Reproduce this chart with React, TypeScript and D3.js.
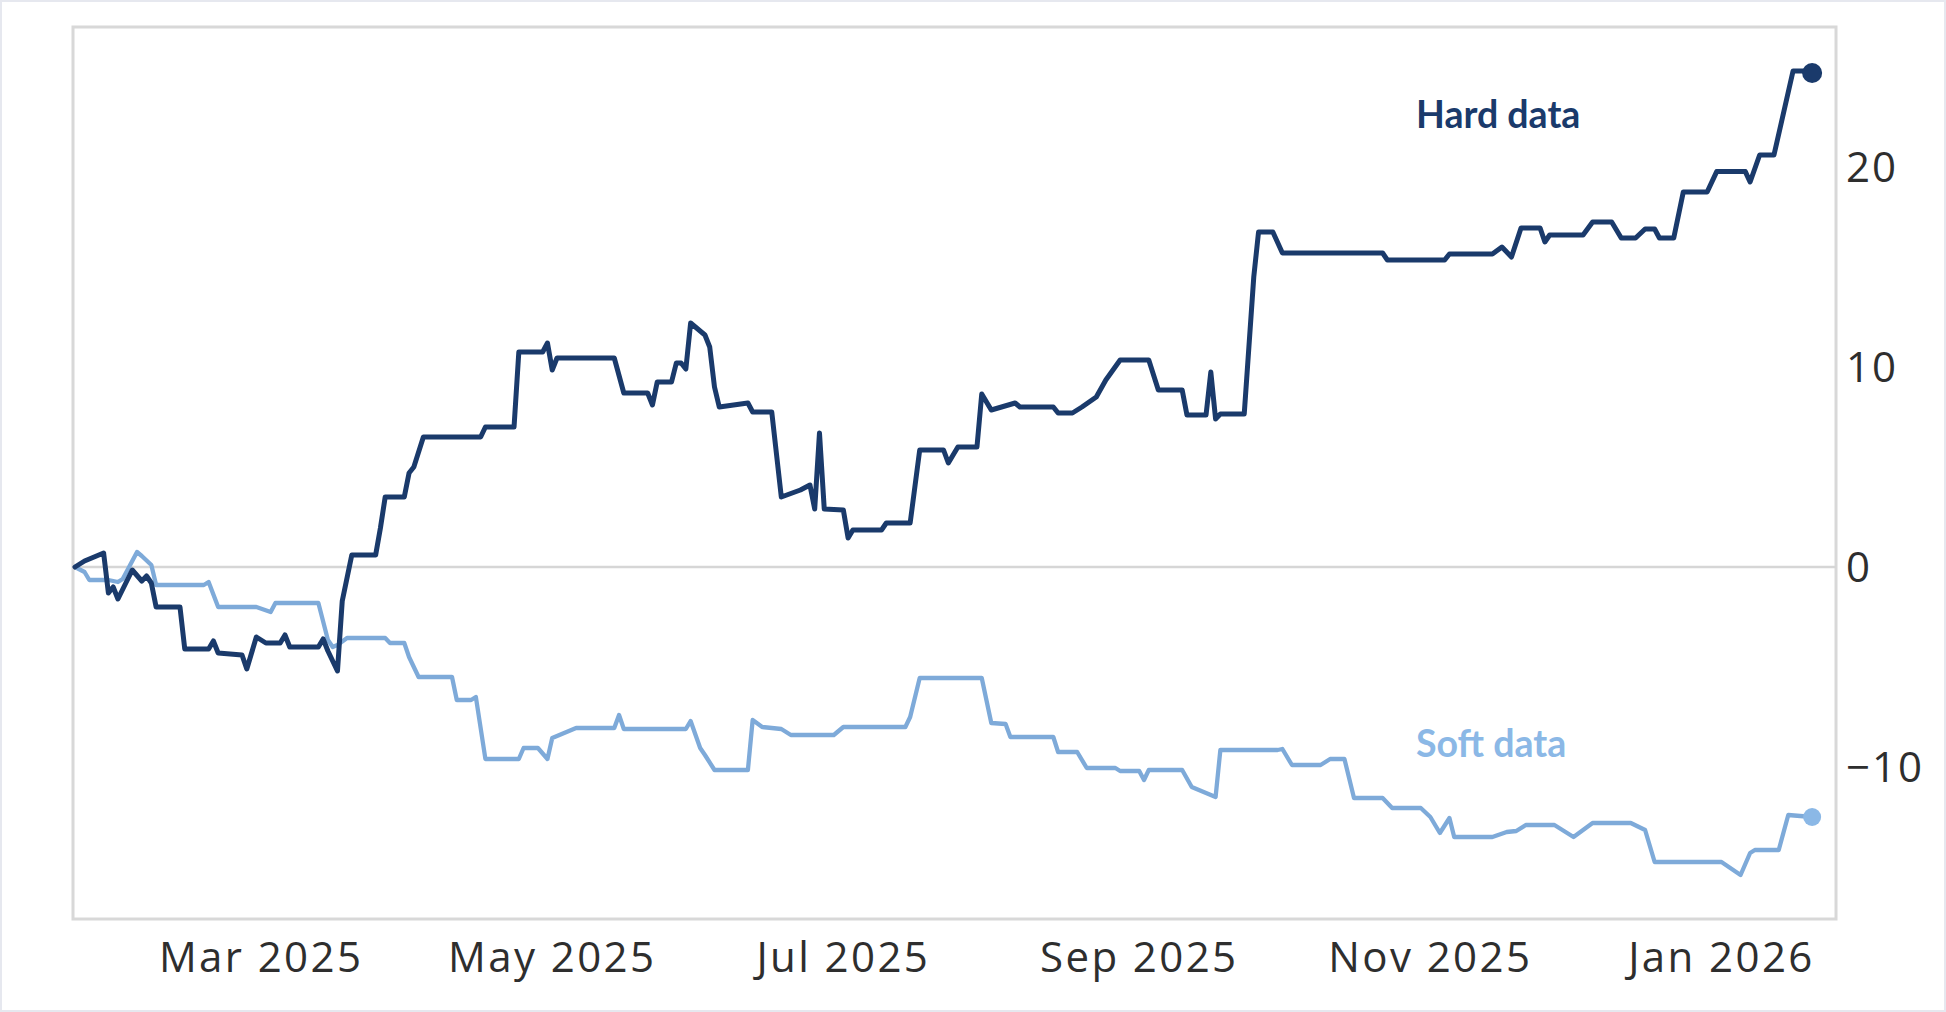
import React from "react";
import * as d3 from "d3";

// ---- data ----
const hardDates = [
  "2025-01-21","2025-01-23","2025-01-27","2025-01-28","2025-01-29","2025-01-30","2025-02-02","2025-02-04","2025-02-05","2025-02-06",
  "2025-02-07","2025-02-12","2025-02-13","2025-02-18","2025-02-19","2025-02-20","2025-02-25","2025-02-26","2025-02-28","2025-03-02",
  "2025-03-05","2025-03-06","2025-03-07","2025-03-13","2025-03-14","2025-03-15","2025-03-17","2025-03-18","2025-03-20","2025-03-25",
  "2025-03-26","2025-03-27","2025-03-31","2025-04-01","2025-04-02","2025-04-04","2025-04-16","2025-04-17","2025-04-23","2025-04-24",
  "2025-04-29","2025-04-30","2025-05-01","2025-05-02","2025-05-14","2025-05-16","2025-05-21","2025-05-22","2025-05-23","2025-05-26",
  "2025-05-27","2025-05-28","2025-05-29","2025-05-30","2025-06-02","2025-06-03","2025-06-04","2025-06-05","2025-06-11","2025-06-12",
  "2025-06-16","2025-06-18","2025-06-22","2025-06-24","2025-06-25","2025-06-26","2025-06-27","2025-07-01","2025-07-02","2025-07-03",
  "2025-07-09","2025-07-10","2025-07-15","2025-07-17","2025-07-22","2025-07-23","2025-07-25","2025-07-29","2025-07-30","2025-08-01",
  "2025-08-06","2025-08-07","2025-08-14","2025-08-15","2025-08-18","2025-08-20","2025-08-23","2025-08-25","2025-08-28","2025-09-03",
  "2025-09-05","2025-09-10","2025-09-11","2025-09-15","2025-09-16","2025-09-17","2025-09-18","2025-09-23","2025-09-25","2025-09-26",
  "2025-09-29","2025-10-01","2025-10-22","2025-10-23","2025-11-04","2025-11-05","2025-11-14","2025-11-16","2025-11-18","2025-11-20",
  "2025-11-24","2025-11-25","2025-11-26","2025-12-03","2025-12-05","2025-12-09","2025-12-11","2025-12-14","2025-12-16","2025-12-18",
  "2025-12-19","2025-12-22","2025-12-24","2025-12-29","2025-12-31","2026-01-06","2026-01-07","2026-01-09","2026-01-12","2026-01-16",
  "2026-01-18","2026-01-20",
];
const hardValues = [
  0.0, 0.3, 0.7, -1.3, -1.0, -1.6, -0.15, -0.7, -0.45, -0.8,
  -2.0, -2.0, -4.1, -4.1, -3.7, -4.3, -4.4, -5.1, -3.5, -3.8,
  -3.8, -3.4, -4.0, -4.0, -3.6, -4.2, -5.2, -1.7, 0.6, 0.6,
  1.95, 3.5, 3.5, 4.7, 5.0, 6.5, 6.5, 7.0, 7.0, 10.75,
  10.75, 11.2, 9.85, 10.45, 10.45, 8.7, 8.7, 8.1, 9.25, 9.25,
  10.2, 10.2, 9.9, 12.2, 11.6, 11.0, 9.0, 8.0, 8.2, 7.75,
  7.75, 3.5, 3.85, 4.1, 2.9, 6.7, 2.9, 2.85, 1.45, 1.85,
  1.85, 2.2, 2.2, 5.85, 5.85, 5.2, 6.0, 6.0, 8.65, 7.85,
  8.2, 8.0, 8.0, 7.7, 7.7, 8.0, 8.5, 9.35, 10.35, 10.35,
  8.85, 8.85, 7.6, 7.6, 9.75, 7.4, 7.65, 7.65, 14.5, 16.75,
  16.75, 15.7, 15.7, 15.35, 15.35, 15.65, 15.65, 16.0, 15.5, 16.95,
  16.95, 16.25, 16.6, 16.6, 17.25, 17.25, 16.45, 16.45, 16.9, 16.9,
  16.45, 16.45, 18.75, 18.75, 19.77, 19.77, 19.25, 20.6, 20.6, 24.8,
  24.8, 24.7,
];

const softDates = [
  "2025-01-21","2025-01-23","2025-01-24","2025-01-28","2025-01-30","2025-01-31","2025-02-03","2025-02-04","2025-02-06","2025-02-07",
  "2025-02-17","2025-02-18","2025-02-20","2025-02-28","2025-03-03","2025-03-04","2025-03-13","2025-03-15","2025-03-16","2025-03-17",
  "2025-03-19","2025-03-27","2025-03-28","2025-03-31","2025-04-01","2025-04-03","2025-04-10","2025-04-11","2025-04-14","2025-04-15",
  "2025-04-17","2025-04-24","2025-04-25","2025-04-28","2025-04-30","2025-05-01","2025-05-03","2025-05-06","2025-05-14","2025-05-15",
  "2025-05-16","2025-05-29","2025-05-30","2025-06-01","2025-06-02","2025-06-04","2025-06-11","2025-06-12","2025-06-14","2025-06-18",
  "2025-06-20","2025-06-29","2025-07-01","2025-07-14","2025-07-15","2025-07-17","2025-07-30","2025-08-01","2025-08-04","2025-08-05",
  "2025-08-14","2025-08-15","2025-08-19","2025-08-21","2025-08-27","2025-08-28","2025-09-01","2025-09-02","2025-09-03","2025-09-10",
  "2025-09-12","2025-09-14","2025-09-17","2025-09-18","2025-09-30","2025-10-01","2025-10-03","2025-10-09","2025-10-11","2025-10-14",
  "2025-10-16","2025-10-22","2025-10-24","2025-10-30","2025-11-01","2025-11-03","2025-11-05","2025-11-06","2025-11-14","2025-11-17",
  "2025-11-19","2025-11-21","2025-11-27","2025-12-01","2025-12-05","2025-12-13","2025-12-16","2025-12-18","2026-01-01","2026-01-05",
  "2026-01-07","2026-01-08","2026-01-13","2026-01-15","2026-01-20",
];
const softValues = [
  0.0, -0.25, -0.65, -0.65, -0.75, -0.6, 0.75, 0.55, 0.1, -0.9,
  -0.9, -0.75, -2.0, -2.0, -2.25, -1.8, -1.8, -3.65, -4.0, -3.9,
  -3.55, -3.55, -3.8, -3.8, -4.5, -5.5, -5.5, -6.65, -6.65, -6.5,
  -9.6, -9.6, -9.05, -9.05, -9.6, -8.55, -8.35, -8.05, -8.05, -7.4,
  -8.1, -8.1, -7.7, -9.05, -9.4, -10.15, -10.15, -7.65, -8.0, -8.1,
  -8.4, -8.4, -8.0, -8.0, -7.5, -5.55, -5.55, -7.8, -7.85, -8.5,
  -8.5, -9.25, -9.25, -10.05, -10.05, -10.2, -10.2, -10.65, -10.15, -10.15,
  -11.0, -11.2, -11.5, -9.15, -9.15, -9.1, -9.9, -9.9, -9.6, -9.6,
  -11.55, -11.55, -12.05, -12.05, -12.5, -13.3, -12.55, -13.5, -13.5, -13.25,
  -13.2, -12.9, -12.9, -13.5, -12.8, -12.8, -13.15, -14.75, -14.75, -15.4,
  -14.3, -14.15, -14.15, -12.4, -12.5,
];

const yTicks = [-10, 0, 10, 20];
const xTickDates = ["2025-03-01", "2025-05-01", "2025-07-01", "2025-09-01", "2025-11-01", "2026-01-01"];
const seriesLabels = ["Hard data", "Soft data"];
const labelAnchors = [
  { date: "2025-10-29", value: 21.95 },
  { date: "2025-10-29", value: -9.5 },
];

// ---- layout / style ----
const W = 1946;
const H = 1012;
const M = { left: 73, right: W - 1836, top: 27, bottom: H - 919 };
const HARD = "#1a3a6b";
const SOFT = "#7eaad9";
const SOFT_LABEL = "#8bb8e6";

type P = { date: Date; value: number };

export default function App() {
  const parse = d3.timeParse("%Y-%m-%d");
  const hard: P[] = hardDates.map((d, i) => ({ date: parse(d)!, value: hardValues[i] }));
  const soft: P[] = softDates.map((d, i) => ({ date: parse(d)!, value: softValues[i] }));

  const x = d3
    .scaleTime()
    .domain([new Date(2025, 0, 20, 14), new Date(2026, 0, 25, 0)])
    .range([M.left, W - M.right]);
  const y = d3.scaleLinear().domain([-17.6, 27]).range([H - M.bottom, M.top]);

  const line = d3
    .line<P>()
    .x((d) => x(d.date))
    .y((d) => y(d.value));

  const fmt = d3.timeFormat("%b %Y");
  const yFmt = (v: number) => (v < 0 ? "\u2212" + Math.abs(v) : String(v));
  const lastHard = hard[hard.length - 1];
  const lastSoft = soft[soft.length - 1];

  return (
    <>
      <style>{"body{margin:0;background:#fff}"}</style>
      <svg width={W} height={H} style={{ display: "block" }}>
        <rect x={0} y={0} width={W} height={H} fill="#fff" />
        <rect x={1} y={1} width={W - 2} height={H - 2} fill="none" stroke="#e6e8ef" strokeWidth={2} />
        {/* plot frame */}
        <rect
          x={M.left}
          y={M.top}
          width={W - M.left - M.right}
          height={H - M.top - M.bottom}
          fill="#fff"
          stroke="#d8d8d8"
          strokeWidth={3}
        />
        {/* zero line */}
        <line x1={M.left} x2={W - M.right} y1={y(0)} y2={y(0)} stroke="#d6d6d6" strokeWidth={2.5} />

        {/* y tick labels (right) */}
        {yTicks.map((t) => (
          <text
            key={t}
            x={W - M.right + 10}
            y={y(t)}
            dy="0.36em"
            fontFamily="'Open Sans', sans-serif"
            fontSize={42}
            fill="#2e2e2e"
            letterSpacing={2}
          >
            {yFmt(t)}
          </text>
        ))}

        {/* x tick labels */}
        {xTickDates.map((d) => (
          <text
            key={d}
            x={x(parse(d)!)}
            y={972}
            textAnchor="middle"
            fontFamily="'Open Sans', sans-serif"
            fontSize={42}
            fill="#2e2e2e"
            letterSpacing={2.4}
          >
            {fmt(parse(d)!)}
          </text>
        ))}

        {/* series */}
        <path d={line(soft) ?? ""} fill="none" stroke={SOFT} strokeWidth={4.3} strokeLinejoin="round" strokeLinecap="round" />
        <path d={line(hard) ?? ""} fill="none" stroke={HARD} strokeWidth={5} strokeLinejoin="round" strokeLinecap="round" />
        <circle cx={x(lastSoft.date)} cy={y(lastSoft.value)} r={9} fill={SOFT_LABEL} />
        <circle cx={x(lastHard.date)} cy={y(lastHard.value)} r={10} fill={HARD} />

        {/* series labels */}
        {seriesLabels.map((s, i) => (
          <text
            key={s}
            x={x(parse(labelAnchors[i].date)!)}
            y={y(labelAnchors[i].value)}
            fontFamily="Lato, sans-serif"
            fontWeight={700}
            fontSize={37.5}
            fill={i === 0 ? HARD : SOFT_LABEL}
          >
            {s}
          </text>
        ))}
      </svg>
    </>
  );
}
